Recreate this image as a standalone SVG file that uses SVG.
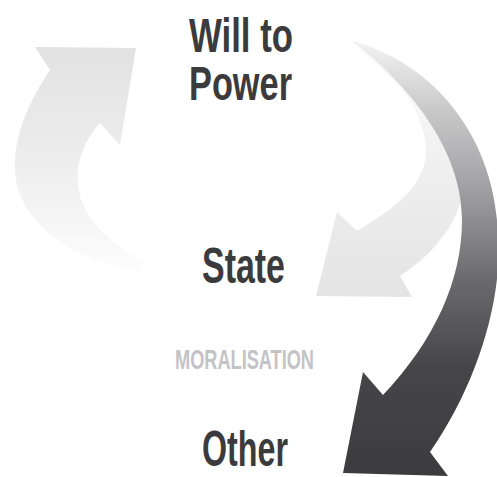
<svg xmlns="http://www.w3.org/2000/svg" width="497" height="477" viewBox="0 0 497 477">
  <defs>
    <linearGradient id="gLeft" x1="0" y1="47" x2="0" y2="272" gradientUnits="userSpaceOnUse">
      <stop offset="0" stop-color="#e2e2e3"/>
      <stop offset="0.5" stop-color="#ededee"/>
      <stop offset="1" stop-color="#fdfdfd"/>
    </linearGradient>
    <linearGradient id="gRight" x1="0" y1="42" x2="0" y2="297" gradientUnits="userSpaceOnUse">
      <stop offset="0" stop-color="#ffffff"/>
      <stop offset="0.45" stop-color="#f0f0f1"/>
      <stop offset="1" stop-color="#e4e4e5"/>
    </linearGradient>
    <linearGradient id="gDark" x1="0" y1="40" x2="0" y2="477" gradientUnits="userSpaceOnUse">
      <stop offset="0" stop-color="#f4f4f4"/>
      <stop offset="0.15" stop-color="#cbcbcc"/>
      <stop offset="0.35" stop-color="#9e9ea0"/>
      <stop offset="0.55" stop-color="#6a6a6c"/>
      <stop offset="0.75" stop-color="#464648"/>
      <stop offset="1" stop-color="#3c3c3e"/>
    </linearGradient>
  </defs>
  <style>
    .big { font-family: "Liberation Sans", Arial, sans-serif; font-weight: bold; fill: #3b3b3d; }
    .small { font-family: "Liberation Sans", Arial, sans-serif; font-weight: bold; fill: #c3c3c7; }
  </style>
  <rect width="497" height="477" fill="#ffffff"/>
  <g id="connectors">
    <path id="arrow-left" fill="url(#gLeft)" d="M 140 272 C 80 262 25 230 16 180 C 10 140 30 100 50 70 L 35 47 L 136 48 L 120 145 L 100 123 C 85 140 76 160 78 185 C 80 215 110 245 145 262 Z"/>
    <path id="arrow-right-light" fill="url(#gRight)" d="M 345 42 C 420 70 460 110 465 160 C 470 210 440 250 400 276 L 412 297 L 316 296 L 337 212 L 357 231 C 400 205 432 180 425 140 C 418 100 390 70 345 45 Z"/>
    <path id="arrow-dark" fill="url(#gDark)" d="M 350 40 C 440 65 490 140 497 220 C 506 290 480 380 430 452 L 448 476 L 343 473 L 363 372 L 383 395 C 435 340 462 280 462 220 C 462 150 410 85 350 40 Z"/>
  </g>
  <g id="will-to-power">
    <text class="big" x="189" y="52" font-size="48" textLength="104" lengthAdjust="spacingAndGlyphs">Will to</text>
    <text class="big" x="189" y="100" font-size="48" textLength="103" lengthAdjust="spacingAndGlyphs">Power</text>
  </g>
  <g id="state">
    <text class="big" x="202" y="283" font-size="50" textLength="83" lengthAdjust="spacingAndGlyphs">State</text>
  </g>
  <g id="moralisation">
    <text class="small" x="175" y="369" font-size="28" textLength="139" lengthAdjust="spacingAndGlyphs">MORALISATION</text>
  </g>
  <g id="other">
    <text class="big" x="202" y="466" font-size="50" textLength="86" lengthAdjust="spacingAndGlyphs">Other</text>
  </g>
</svg>
